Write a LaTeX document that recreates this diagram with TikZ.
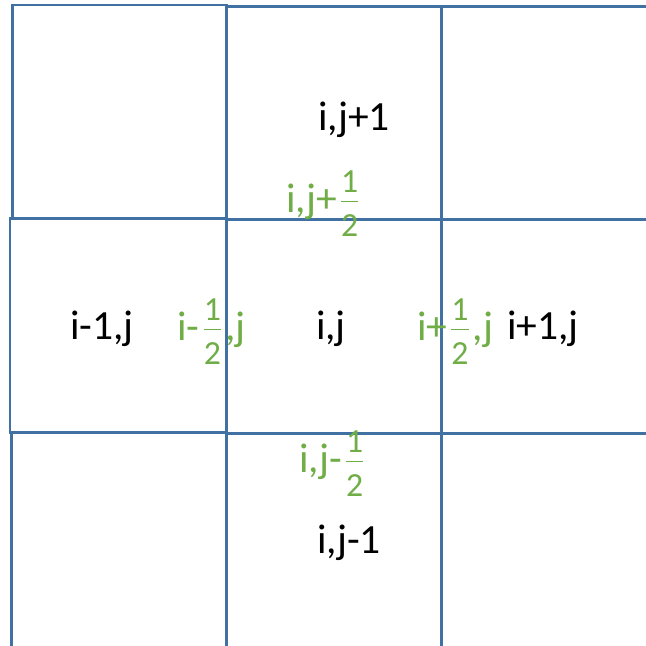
\documentclass[tikz,border=0pt]{standalone}
\usepackage{fontspec}
\setmainfont{Carlito}
\usepackage{amsmath}
\definecolor{cellblue}{RGB}{65,113,163}
\definecolor{facegreen}{RGB}{112,173,71}
% stacked one half, spread like the original
\newcommand{\halfdig}[1]{\text{\fontsize{9.6}{10}\selectfont #1}}
\newcommand{\halfof}{$\frac{\halfdig{1}\rule[-1.8pt]{0pt}{1.8pt}}{\rule{0pt}{9.3pt}\halfdig{2}}$}
\tikzset{
  cell/.style={draw=cellblue,line width=0.85pt},
  lbl/.style={font=\fontsize{11.8}{14}\selectfont,text=black,inner sep=0pt,anchor=base},
  face/.style={lbl,text=facegreen},
}

\begin{document}
\begin{tikzpicture}[x=0.01cm,y=-0.01cm]
\useasboundingbox (0,0) rectangle (646,645);
\clip (0,0) rectangle (646,645);
% left column
\draw[cell] (12.5,5) rectangle (226,218);
\draw[cell] (10,218.5) rectangle (226,432);
\draw[cell] (11.5,432) -- (11.5,660);
% middle and right columns
\draw[cell] (226,5) -- (226,660);
\draw[cell] (441,6.5) -- (441,660);
\draw[cell] (226,6.5) -- (660,6.5);
\draw[cell] (226,219.5) -- (660,219.5);
\draw[cell] (226,433) -- (660,433);

% cell centres
\node[lbl] (top) at (354,130) {i,j+1};
\node[lbl] (left) at (102,339) {i-1,j};
\node[lbl] (mid) at (331,339) {i,j};
\node[lbl] (right) at (543,339) {i+1,j};
\node[lbl] (bot) at (349,553) {i,j-1};

% faces
\node[face] (north) at (324.5,212) {i,j+\halfof};
\node[face] (west) at (211.5,340) {i-\halfof,j};
\node[face] (east) at (455,340) {i+\halfof,j};
\node[face] (south) at (333.5,472) {i,j-\halfof};
\end{tikzpicture}
\end{document}
